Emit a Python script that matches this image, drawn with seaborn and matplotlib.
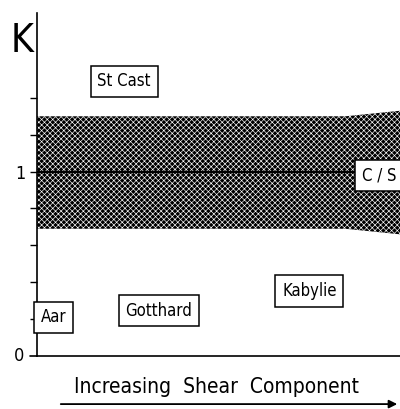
"""
K versus increasing shear component - schematic diagram
"""
import matplotlib
matplotlib.use('Agg')
import matplotlib.pyplot as plt
import seaborn as sns
import pandas as pd

# Data
band_x = [0.0, 0.85, 1.0]
band_low = [0.69, 0.69, 0.66]
band_high = [1.30, 1.30, 1.33]
mid_x = [0.0, 1.0]
mid_k = [1.0, 1.0]

sites = ['St Cast', 'Aar', 'Gotthard', 'Kabylie', 'C / S']
site_x = [0.24, 0.046, 0.336, 0.75, 0.895]
site_k = [1.49, 0.21, 0.245, 0.353, 0.98]
site_ha = ['center', 'center', 'center', 'center', 'left']

y_ticks = [0.2, 0.4, 0.6, 0.8, 1.0, 1.2, 1.4]

sns.set_style('ticks')
plt.rcParams['font.family'] = ['DejaVu Sans']
plt.rcParams['font.stretch'] = 'condensed'
plt.rcParams['text.color'] = 'black'
plt.rcParams['ytick.color'] = 'black'
plt.rcParams['ytick.labelcolor'] = 'black'
plt.rcParams['hatch.linewidth'] = 0.45

fig = plt.figure(figsize=(4.0, 4.09), dpi=100)
ax = fig.add_axes([0.0925, 0.1296, 0.9075, 0.8385])

# shaded band
ax.fill_between(band_x, band_low, band_high, facecolor='black',
                edgecolor='white', hatch='xxxxxx', linewidth=0, zorder=1)
df_mid = pd.DataFrame({'x': mid_x, 'K': mid_k})
sns.lineplot(data=df_mid, x='x', y='K', color='black', linewidth=1.5, ax=ax, zorder=2)

# site labels in boxes
for name, x, k, ha in zip(sites, site_x, site_k, site_ha):
    ax.text(x, k, name, ha=ha, va='center', fontsize=12, zorder=3,
            bbox=dict(boxstyle='square,pad=0.4', facecolor='white',
                      edgecolor='black', linewidth=1.1))

ax.set_xlim(0, 1)
ax.set_ylim(0, 1.86)
ax.set_yticks(y_ticks)
ax.set_yticklabels(['' if t != 1.0 else '1' for t in y_ticks])
ax.set_xticks([])
ax.tick_params(axis='y', length=5, width=1, labelsize=13, direction='out')
ax.set_xlabel('')
ax.set_ylabel('')
for side in ['top', 'right']:
    ax.spines[side].set_visible(False)
ax.spines['left'].set_linewidth(1.2)
ax.spines['bottom'].set_linewidth(1.2)
ax.spines['left'].set_color('black')
ax.spines['bottom'].set_color('black')

# zero label with small tick extending left
ax.text(-0.035, 0, '0', ha='right', va='center', fontsize=13, clip_on=False)
ax.plot([-0.02, 0], [0, 0], color='black', linewidth=1.2, clip_on=False)

fig.text(0.055, 0.90, 'K', fontsize=28, ha='center', va='center')
fig.text(0.54, 0.053, 'Increasing  Shear  Component', fontsize=15, ha='center', va='center')
fig.add_artist(matplotlib.patches.FancyArrowPatch((0.145, 0.012), (1.0, 0.012),
               transform=fig.transFigure, arrowstyle='-|>', mutation_scale=12,
               color='black', linewidth=1.3))

plt.savefig('out.png', dpi=100)
